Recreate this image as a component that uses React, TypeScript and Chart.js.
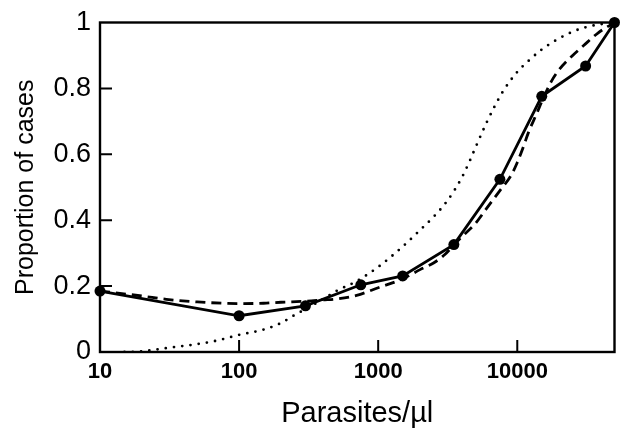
import React, { useEffect, useRef } from "react";
import { Chart, registerables } from "chart.js";

Chart.register(...registerables);

const xTicks = [10, 100, 1000, 10000];
const yTicks = [0, 0.2, 0.4, 0.6, 0.8, 1];

const observedX = [10, 100, 300, 750, 1500, 3500, 7500, 15000, 31000, 50000];
const observedY = [0.185, 0.11, 0.14, 0.204, 0.231, 0.326, 0.524, 0.776, 0.868, 1.0];

const fitX = [10, 20, 30, 50, 100, 150, 200, 300, 400, 500, 700, 1000, 1500, 2000, 2500, 3000, 3500, 4000, 5000, 6000, 7500, 9000, 10000, 11000, 12000, 14000, 15000, 17500, 20000, 25000, 30000, 38000, 50000];
const fitY = [0.185, 0.17, 0.16, 0.152, 0.147, 0.148, 0.151, 0.154, 0.158, 0.161, 0.172, 0.195, 0.222, 0.25, 0.27, 0.295, 0.325, 0.35, 0.39, 0.435, 0.49, 0.535, 0.575, 0.62, 0.665, 0.73, 0.76, 0.82, 0.857, 0.9, 0.93, 0.968, 1.0];

const modelX = [15, 20, 30, 50, 70, 100, 150, 200, 250, 300, 400, 500, 700, 1000, 1500, 2000, 2500, 3000, 3500, 4000, 4500, 5000, 6000, 7000, 8000, 10000, 12000, 15000, 20000, 25000, 30000, 40000, 50000];
const modelY = [0, 0.002, 0.012, 0.024, 0.035, 0.052, 0.068, 0.088, 0.112, 0.13, 0.16, 0.185, 0.215, 0.258, 0.32, 0.37, 0.41, 0.448, 0.488, 0.53, 0.575, 0.62, 0.695, 0.752, 0.795, 0.85, 0.883, 0.918, 0.952, 0.972, 0.984, 0.995, 1.0];

const toPoints = (xs: number[], ys: number[]) => xs.map((x, i) => ({ x, y: ys[i] }));

const FONT = "'Liberation Sans', Arial, Helvetica, sans-serif";

export default function App() {
  const ref = useRef<HTMLCanvasElement>(null);

  useEffect(() => {
    document.body.style.margin = "0";
    const canvas = ref.current;
    if (!canvas) return;

    const framePlugin = {
      id: "frame",
      beforeDatasetsDraw(chart: any) {
        const { ctx, chartArea } = chart;
        const { left, right, top, bottom } = chartArea;
        const xs = chart.scales.x;
        const ys = chart.scales.y;
        ctx.save();
        ctx.strokeStyle = "#000";
        ctx.lineWidth = 2.4;
        ctx.strokeRect(left, top, right - left, bottom - top);
        ctx.lineWidth = 2;
        ctx.beginPath();
        yTicks.forEach((v) => {
          if (v === 0 || v === 1) return;
          const py = ys.getPixelForValue(v);
          ctx.moveTo(left, py);
          ctx.lineTo(left + 12, py);
        });
        xTicks.forEach((v, i) => {
          if (i === 0) return;
          const px = xs.getPixelForValue(v);
          ctx.moveTo(px, bottom);
          ctx.lineTo(px, bottom - 12);
        });
        ctx.stroke();
        ctx.restore();
      },
    };

    const chart = new Chart(canvas, {
      type: "line",
      data: {
        datasets: [
          {
            label: "model",
            data: toPoints(modelX, modelY),
            borderColor: "#000",
            borderWidth: 2.8,
            borderDash: [0, 8.3],
            borderCapStyle: "round",
            pointRadius: 0,
            cubicInterpolationMode: "monotone",
            fill: false,
          },
          {
            label: "fit",
            data: toPoints(fitX, fitY),
            borderColor: "#000",
            borderWidth: 2.8,
            borderDash: [10, 6],
            pointRadius: 0,
            cubicInterpolationMode: "monotone",
            fill: false,
          },
          {
            label: "observed",
            data: toPoints(observedX, observedY),
            borderColor: "#000",
            borderWidth: 2.8,
            pointRadius: 5.5,
            pointBackgroundColor: "#000",
            pointBorderColor: "#000",
            pointBorderWidth: 0,
            tension: 0,
            fill: false,
            clip: false,
          },
        ],
      } as any,
      options: {
        responsive: false,
        animation: false,
        layout: { padding: { left: 0, right: 3, top: 21, bottom: 0 } },
        plugins: { legend: { display: false }, tooltip: { enabled: false } },
        scales: {
          x: {
            type: "logarithmic",
            min: 10,
            max: 50000,
            grid: { display: false, drawTicks: false },
            border: { display: false },
            afterBuildTicks: (s: any) => {
              s.ticks = xTicks.map((v) => ({ value: v }));
            },
            afterFit: (s: any) => {
              s.height = 76;
            },
            ticks: {
              autoSkip: false,
              maxRotation: 0,
              minRotation: 0,
              padding: 9,
              color: "#000",
              font: { family: FONT, size: 22, weight: "bold", lineHeight: 1 },
              callback: (v: any) => String(v),
            },
            title: {
              display: true,
              text: "Parasites/\u00b5l",
              color: "#000",
              padding: 0,
              font: { family: FONT, size: 29, lineHeight: 1 },
            },
          },
          y: {
            type: "linear",
            min: 0,
            max: 1,
            grid: { display: false, drawTicks: false },
            border: { display: false },
            afterBuildTicks: (s: any) => {
              s.ticks = yTicks.map((v) => ({ value: v }));
            },
            afterFit: (s: any) => {
              s.width = 100;
            },
            ticks: {
              padding: 9,
              color: "#000",
              font: { family: FONT, size: 27, lineHeight: 1 },
              callback: (v: any) => (v === 0 ? "0" : v === 1 ? "1" : Number(v).toFixed(1)),
            },
            title: {
              display: true,
              text: "Proportion of cases",
              color: "#000",
              padding: 14,
              font: { family: FONT, size: 25, lineHeight: 1 },
            },
          },
        },
      } as any,
      plugins: [framePlugin],
    });

    return () => chart.destroy();
  }, []);

  return (
    <div style={{ width: 620, height: 428 }}>
      <canvas ref={ref} width={620} height={428} style={{ display: "block" }} />
    </div>
  );
}
